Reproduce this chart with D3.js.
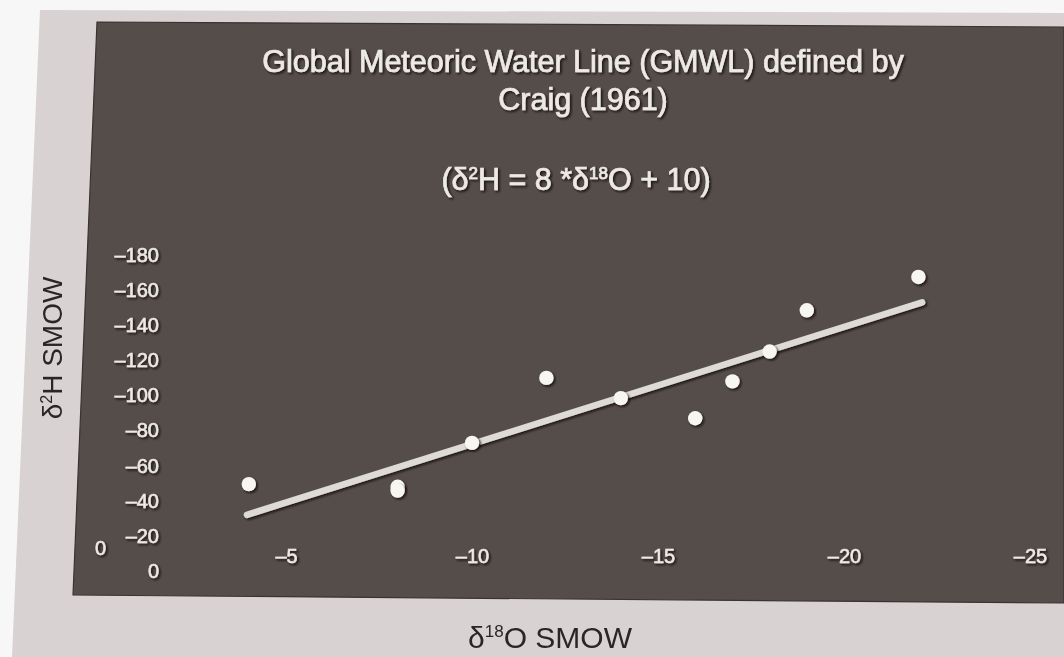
<!DOCTYPE html>
<html>
<head>
<meta charset="utf-8">
<script src="https://cdn.jsdelivr.net/npm/d3@7"></script>
<style>
  html, body { margin: 0; padding: 0; background: #f7f7f7; }
  svg { display: block; }
</style>
</head>
<body>
<svg id="chart" width="1064" height="657"></svg>
<script>
// ---- data ----
const xTicks = [0, -5, -10, -15, -20, -25];
const yTicks = [0, -20, -40, -60, -80, -100, -120, -140, -160, -180];
const d18O = [-4, -8, -8, -10, -12, -14, -16, -17, -18, -19, -22];
const d2H  = [-49.5, -48, -45.8, -73, -110, -98.5, -87, -108, -125, -148.5, -167.5];
const lineX = [-3.95, -22.1];
const lineY = [-32, -153];
const titleLines = ["Global Meteoric Water Line (GMWL) defined by", "Craig (1961)"];
const xLabel = "SMOW";
const yLabel = "SMOW";

const svg = d3.select("#chart");
const W = 1064, H = 657;

const defs = svg.append("defs");
const emb = defs.append("filter").attr("id", "emb").attr("x", "-20%").attr("y", "-20%").attr("width", "140%").attr("height", "140%");
emb.append("feDropShadow").attr("dx", 1.6).attr("dy", 1.6).attr("stdDeviation", 0.9)
  .attr("flood-color", "#151010").attr("flood-opacity", 0.95);
const soft = defs.append("filter").attr("id", "soft");
soft.append("feGaussianBlur").attr("stdDeviation", 0.5);

// page background and paper
svg.append("rect").attr("width", W).attr("height", H).attr("fill", "#f7f7f7");
svg.append("polygon").attr("points", "40,10 1064,13 1064,657 12,657").attr("fill", "#d8d2d2");
// dark panel
svg.append("polygon").attr("points", "97,22 1064,27 1064,603 73,595")
  .attr("fill", "#554d4a").attr("stroke", "#3a3331").attr("stroke-width", 1.2);

// scales
const x = d3.scaleLinear().domain([0, -25]).range([100, 1030]);
const y = d3.scaleLinear().domain([0, -180]).range([571, 255]);

const fmt = d => d === 0 ? "0" : "\u2013" + Math.abs(d);
const txtCol = "#ede9e5";
const font = "Liberation Sans, Arial, sans-serif";

// y axis
const ya = svg.append("g").attr("transform", "translate(159,0)")
  .call(d3.axisLeft(y).tickValues(yTicks).tickSize(0).tickPadding(0).tickFormat(fmt));
ya.select(".domain").remove();
ya.selectAll("text").attr("fill", txtCol).attr("font-size", 20)
  .attr("stroke", txtCol).attr("stroke-width", 0.5)
  .attr("font-family", font).attr("filter", "url(#emb)");

// x axis
const xa = svg.append("g").attr("transform", "translate(0,549)")
  .call(d3.axisBottom(x).tickValues(xTicks).tickSize(0).tickPadding(0).tickFormat(fmt));
xa.select(".domain").remove();
xa.selectAll("text").attr("fill", txtCol).attr("font-size", 20)
  .attr("stroke", txtCol).attr("stroke-width", 0.5)
  .attr("font-family", font).attr("filter", "url(#emb)")
  .attr("y", d => d === 0 ? -8 : 0);

// regression line (GMWL)
const pts = lineX.map((v, i) => [v, lineY[i]]);
svg.append("path")
  .attr("d", d3.line().x(d => x(d[0])).y(d => y(d[1]))(pts))
  .attr("stroke", "#dedad6").attr("stroke-width", 6.5).attr("stroke-linecap", "round")
  .attr("fill", "none").attr("filter", "url(#emb)");

// data points
svg.append("g").selectAll("circle")
  .data(d18O.map((v, i) => [v, d2H[i]]))
  .join("circle")
  .attr("cx", d => x(d[0])).attr("cy", d => y(d[1])).attr("r", 7.2)
  .attr("fill", "#f8f6f2").attr("filter", "url(#emb)");

// titles
const tg = svg.append("g").attr("font-family", font)
  .attr("fill", txtCol).attr("stroke", txtCol).attr("stroke-width", 0.7)
  .attr("text-anchor", "middle").attr("font-size", 30.5).attr("filter", "url(#emb)");
tg.append("text").attr("x", 583).attr("y", 72).text(titleLines[0]);
tg.append("text").attr("x", 583).attr("y", 110).text(titleLines[1]);
const eq = tg.append("text").attr("x", 576).attr("y", 190);
eq.append("tspan").text("(\u03B4");
eq.append("tspan").attr("font-size", 17).attr("dy", -11).text("2");
eq.append("tspan").attr("dy", 11).text("H = 8 *\u03B4");
eq.append("tspan").attr("font-size", 17).attr("dy", -11).text("18");
eq.append("tspan").attr("dy", 11).text("O + 10)");

// axis titles
const xl = svg.append("text").attr("x", 550).attr("y", 648).attr("text-anchor", "middle")
  .attr("font-family", font).attr("font-size", 30)
  .attr("fill", "#2a2626").attr("filter", "url(#soft)");
xl.append("tspan").text("\u03B4");
xl.append("tspan").attr("font-size", 17).attr("dy", -11).text("18");
xl.append("tspan").attr("dy", 11).text("O " + xLabel);

const yl = svg.append("text").attr("transform", "translate(62,348) rotate(-90)").attr("text-anchor", "middle")
  .attr("font-family", font).attr("font-size", 28)
  .attr("fill", "#2a2626").attr("filter", "url(#soft)");
yl.append("tspan").text("\u03B4");
yl.append("tspan").attr("font-size", 16).attr("dy", -10).text("2");
yl.append("tspan").attr("dy", 10).text("H " + yLabel);
</script>
</body>
</html>
